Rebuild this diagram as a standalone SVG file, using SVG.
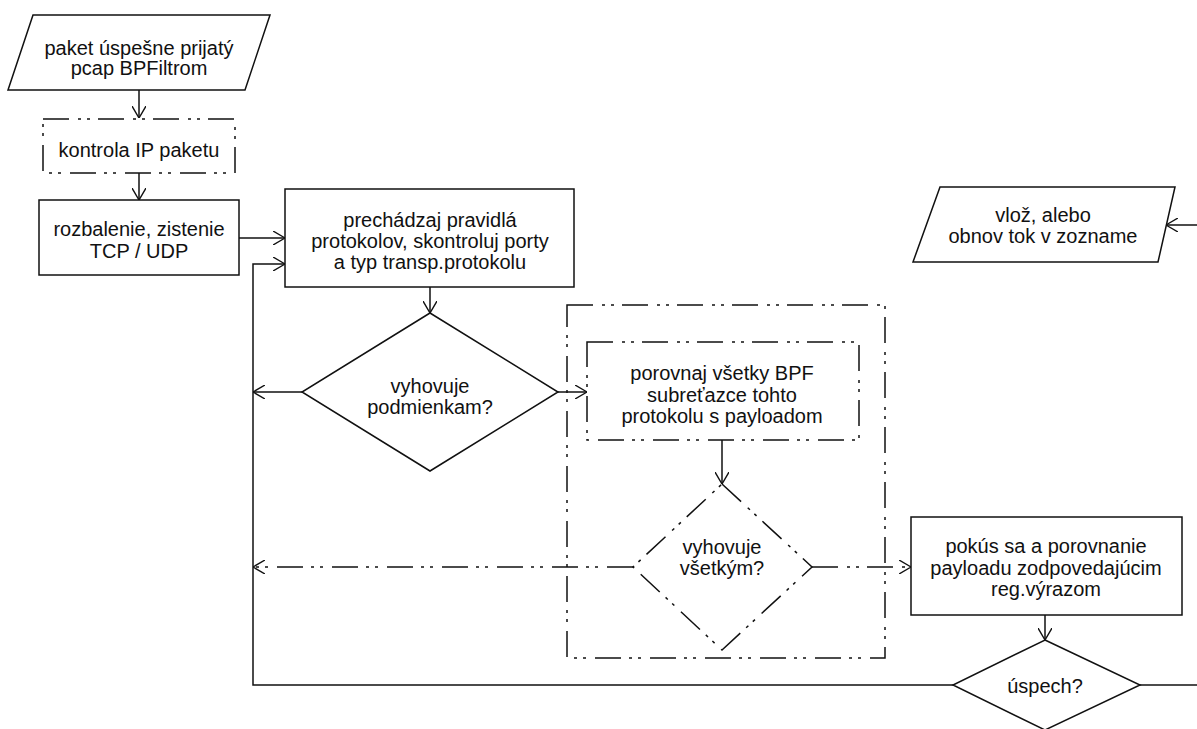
<svg xmlns="http://www.w3.org/2000/svg" width="1197" height="729" viewBox="0 0 1197 729">
  <defs>
    <marker id="arrow" viewBox="0 0 12 14" refX="12" refY="7" markerWidth="12" markerHeight="14" markerUnits="userSpaceOnUse" orient="auto">
      <path d="M0,0 L12,7 L0,14" fill="none" stroke="#111" stroke-width="1.4" stroke-dasharray="none"/>
    </marker>
    <style>
      .shape { fill: #fff; stroke: #111; stroke-width: 1.5; }
      .dashed { stroke-dasharray: 26 9 3 6 3 8; }
      .frame { fill: none; stroke: #111; stroke-width: 1.5; stroke-dasharray: 26 9 3 6 3 8; }
      .edge { fill: none; stroke: #111; stroke-width: 1.5; }
      .edge.arrow { marker-end: url(#arrow); }
      text { font-family: "Liberation Sans", Arial, sans-serif; font-size: 20px; fill: #111; text-anchor: middle; }
    </style>
  </defs>
  <rect width="1197" height="729" fill="#fff"/>

  <!-- connectors -->
  <g id="connectors">
    <path class="edge arrow" d="M139,90 V118"/>
    <path class="edge arrow" d="M139,173 V200"/>
    <path class="edge arrow" d="M239,238 H285"/>
    <path class="edge arrow" d="M953,685 H253 V264 H285"/>
    <path class="edge arrow" d="M430,287 V313"/>
    <path class="edge arrow" d="M302,392 H253"/>
    <path class="edge arrow" d="M558,392 H587"/>
    <path class="edge arrow" d="M722,440 V484"/>
    <path class="edge arrow dashed" d="M633,567 H253"/>
    <path class="edge arrow dashed" d="M812,567 H911"/>
    <path class="edge arrow" d="M1045,615 V640"/>
    <path class="edge" d="M1140,685 H1197"/>
    <path class="edge arrow" d="M1197,225 H1166"/>
  </g>

  <!-- grouping frame around the BPF substring check -->
  <g id="bpf-frame">
    <rect class="frame" x="567" y="305" width="318" height="353"/>
  </g>

  <g id="received">
    <polygon class="shape" points="33,15 270,15 245,90 8,90"/>
    <text x="139" y="55">paket úspešne prijatý</text>
    <text x="139" y="75">pcap BPFiltrom</text>
  </g>

  <g id="ip-check">
    <rect class="shape dashed" x="43" y="119" width="192" height="54"/>
    <text x="139" y="157">kontrola IP paketu</text>
  </g>

  <g id="unpack">
    <rect class="shape" x="39" y="200" width="200" height="75"/>
    <text x="139" y="236">rozbalenie, zistenie</text>
    <text x="139" y="258">TCP / UDP</text>
  </g>

  <g id="walk-rules">
    <rect class="shape" x="285" y="189" width="289" height="98"/>
    <text x="430" y="227">prechádzaj pravidlá</text>
    <text x="430" y="248">protokolov, skontroluj porty</text>
    <text x="430" y="269">a typ transp.protokolu</text>
  </g>

  <g id="matches-conditions">
    <polygon class="shape" points="430,313 558,392 430,471 302,392"/>
    <text x="430" y="393">vyhovuje</text>
    <text x="430" y="414">podmienkam?</text>
  </g>

  <g id="compare-bpf">
    <rect class="shape dashed" x="587" y="342" width="272" height="98"/>
    <text x="722" y="380">porovnaj všetky BPF</text>
    <text x="722" y="402">subreťazce tohto</text>
    <text x="722" y="423">protokolu s payloadom</text>
  </g>

  <g id="matches-all">
    <polygon class="shape dashed" points="722,484 812,567 722,650 633,567"/>
    <text x="722" y="554">vyhovuje</text>
    <text x="722" y="575">všetkým?</text>
  </g>

  <g id="regex-match">
    <rect class="shape" x="911" y="517" width="271" height="98"/>
    <text x="1046" y="553">pokús sa a porovnanie</text>
    <text x="1046" y="575">payloadu zodpovedajúcim</text>
    <text x="1046" y="596">reg.výrazom</text>
  </g>

  <g id="success">
    <polygon class="shape" points="1045,640 1140,685 1045,730 953,685"/>
    <text x="1045" y="693">úspech?</text>
  </g>

  <g id="store-flow">
    <polygon class="shape" points="940,187 1175,187 1158,262 913,262"/>
    <text x="1043" y="222">vlož, alebo</text>
    <text x="1043" y="243">obnov tok v zozname</text>
  </g>
</svg>
